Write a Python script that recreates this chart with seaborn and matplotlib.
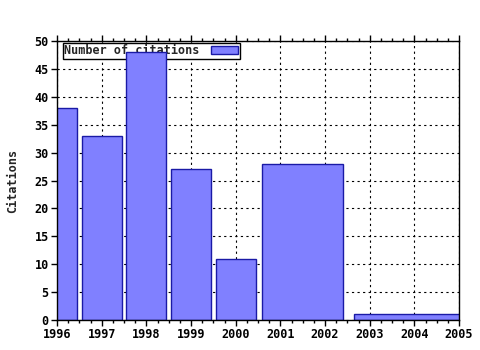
import matplotlib
matplotlib.use("Agg")
import matplotlib.pyplot as plt
from matplotlib.ticker import MultipleLocator
import seaborn as sns

# Data
periods = ["1996", "1997", "1998", "1999", "2000", "2001-2002", "2003-2005"]
start_years = [1996, 1997, 1998, 1999, 2000, 2001, 2003]
end_years = [1996, 1997, 1998, 1999, 2000, 2002, 2005]
citations = [38, 33, 48, 27, 11, 28, 1]
x_ticks = list(range(1996, 2006))
y_ticks = list(range(0, 55, 5))

sns.set_theme(style="white")
plt.rcParams["font.family"] = ["DejaVu Sans Mono"]
plt.rcParams["font.weight"] = "bold"

fig = plt.figure(figsize=(4.8, 3.5), dpi=100)
ax = fig.add_axes([57 / 480, 30 / 350, (459 - 57) / 480, (320 - 41) / 350])

centers = [(s + e) / 2 for s, e in zip(start_years, end_years)]
widths = [0.9 * (e - s + 1) for s, e in zip(start_years, end_years)]

ax.bar(centers, citations, width=widths, color="#8080ff", edgecolor="#1a1aa6",
       linewidth=1.0, label="Number of citations", zorder=3)

ax.set_xlim(1996, 2005)
ax.set_ylim(0, 50)
ax.set_xticks(x_ticks)
ax.set_yticks(y_ticks)
ax.xaxis.set_minor_locator(MultipleLocator(0.25))
ax.grid(True, which="major", color="black", linestyle=(0, (2, 3)), linewidth=0.8, zorder=1)
for s in ax.spines.values():
    s.set_color("black")
    s.set_linewidth(1.0)
    s.set_zorder(5)
ax.tick_params(axis="x", which="major", direction="out", length=4, width=1,
               colors="black", labelsize=8.5, top=True, bottom=True, pad=2)
ax.tick_params(axis="x", which="minor", direction="out", length=2, width=1,
               colors="black", top=True, bottom=True)
ax.tick_params(axis="y", which="major", direction="out", length=4, width=1,
               colors="black", labelsize=8.5, left=True, right=False, pad=2)
for lab in ax.get_xticklabels() + ax.get_yticklabels():
    lab.set_fontweight("bold")

ax.set_ylabel("Citations", fontsize=8.5, fontweight="bold", labelpad=11)

leg = ax.legend(loc="upper left", bbox_to_anchor=(0.014, 0.993), fontsize=8.5,
                frameon=True, fancybox=False, edgecolor="black", framealpha=1,
                markerfirst=False, handlelength=2.3, handleheight=0.6,
                borderpad=0.12, borderaxespad=0, handletextpad=1.0)
leg.get_frame().set_linewidth(1.0)
leg.set_zorder(2)
for t in leg.get_texts():
    t.set_fontweight("bold")

fig.savefig("out.png", dpi=100)
